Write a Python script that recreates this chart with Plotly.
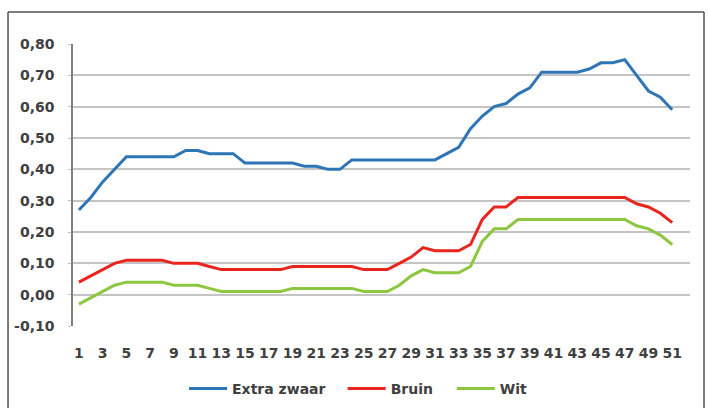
import plotly.graph_objects as go

weeks = list(range(1, 52))

extra_zwaar = [0.27, 0.31, 0.36, 0.40, 0.44, 0.44, 0.44, 0.44, 0.44, 0.46,
               0.46, 0.45, 0.45, 0.45, 0.42, 0.42, 0.42, 0.42, 0.42, 0.41,
               0.41, 0.40, 0.40, 0.43, 0.43, 0.43, 0.43, 0.43, 0.43, 0.43,
               0.43, 0.45, 0.47, 0.53, 0.57, 0.60, 0.61, 0.64, 0.66, 0.71,
               0.71, 0.71, 0.71, 0.72, 0.74, 0.74, 0.75, 0.70, 0.65, 0.63,
               0.59]

bruin = [0.04, 0.06, 0.08, 0.10, 0.11, 0.11, 0.11, 0.11, 0.10, 0.10,
         0.10, 0.09, 0.08, 0.08, 0.08, 0.08, 0.08, 0.08, 0.09, 0.09,
         0.09, 0.09, 0.09, 0.09, 0.08, 0.08, 0.08, 0.10, 0.12, 0.15,
         0.14, 0.14, 0.14, 0.16, 0.24, 0.28, 0.28, 0.31, 0.31, 0.31,
         0.31, 0.31, 0.31, 0.31, 0.31, 0.31, 0.31, 0.29, 0.28, 0.26,
         0.23]

wit = [-0.03, -0.01, 0.01, 0.03, 0.04, 0.04, 0.04, 0.04, 0.03, 0.03,
       0.03, 0.02, 0.01, 0.01, 0.01, 0.01, 0.01, 0.01, 0.02, 0.02,
       0.02, 0.02, 0.02, 0.02, 0.01, 0.01, 0.01, 0.03, 0.06, 0.08,
       0.07, 0.07, 0.07, 0.09, 0.17, 0.21, 0.21, 0.24, 0.24, 0.24,
       0.24, 0.24, 0.24, 0.24, 0.24, 0.24, 0.24, 0.22, 0.21, 0.19,
       0.16]

series_names = ["Extra zwaar", "Bruin", "Wit"]
series_colors = ["#2E75B6", "#E8261E", "#8DC63F"]

y_tickvals = [-0.10, 0.00, 0.10, 0.20, 0.30, 0.40, 0.50, 0.60, 0.70, 0.80]
y_ticktext = ["-0,10", "0,00", "0,10", "0,20", "0,30", "0,40", "0,50", "0,60", "0,70", "0,80"]
x_tickvals = list(range(1, 52, 2))
x_ticktext = [str(v) for v in x_tickvals]

font_family = "DejaVu Sans"
text_color = "#404040"
fsize = 14
legend_font = dict(family=font_family, size=fsize, color=text_color, weight="bold")

legend_ids = ["legend", "legend2", "legend3"]
legend_x = [0.18, 0.437, 0.614]

fig = go.Figure()
for name, vals, col, lid in zip(series_names, [extra_zwaar, bruin, wit], series_colors, legend_ids):
    fig.add_trace(go.Scatter(x=weeks, y=vals, mode="lines", name=name, legend=lid,
                             line=dict(color=col, width=3)))

legend_layout = {}
for lid, lx in zip(legend_ids, legend_x):
    legend_layout[lid] = dict(orientation="h", x=lx, xanchor="left", y=-0.2234, yanchor="middle",
                              font=legend_font, itemwidth=38, bgcolor="rgba(0,0,0,0)")

fig.update_layout(
    width=708, height=408,
    margin=dict(l=73, r=18, t=44, b=82, autoexpand=False),
    paper_bgcolor="white", plot_bgcolor="white",
    font=dict(family=font_family, size=fsize, color=text_color, weight="bold"),
    showlegend=True,
    xaxis=dict(range=[0.5, 52.5], tickmode="array", tickvals=x_tickvals, ticktext=x_ticktext,
               showgrid=False, zeroline=False, showline=False, ticks="", automargin=False,
               ticklabelstandoff=17,
               tickfont=dict(family=font_family, size=fsize, color=text_color, weight="bold")),
    yaxis=dict(range=[-0.1, 0.8], tickmode="array", tickvals=y_tickvals, ticktext=y_ticktext,
               showgrid=True, gridcolor="#c4c4c4", gridwidth=1.5, zeroline=False,
               showline=True, linecolor="#7f7f7f", linewidth=1.5, automargin=False,
               ticks="outside", ticklen=3, tickcolor="#bfbfbf",
               ticklabelstandoff=11,
               tickfont=dict(family=font_family, size=fsize, color=text_color, weight="bold")),
    **legend_layout,
)

# outer chart frame (top, left, right edges)
frame_style = dict(color="#505050", width=1.5)
fig.add_shape(type="line", xref="paper", yref="paper", x0=-0.1053, x1=1.0227, y0=1.1135, y1=1.1135,
              line=frame_style, layer="above")
fig.add_shape(type="line", xref="paper", yref="paper", x0=-0.1053, x1=-0.1053, y0=-0.32, y1=1.1135,
              line=frame_style, layer="above")
fig.add_shape(type="line", xref="paper", yref="paper", x0=1.0227, x1=1.0227, y0=-0.32, y1=1.1135,
              line=frame_style, layer="above")

fig.write_html("out.html", config={"displayModeBar": False},
               post_script="document.body.style.margin='0';document.body.style.overflow='hidden';")
